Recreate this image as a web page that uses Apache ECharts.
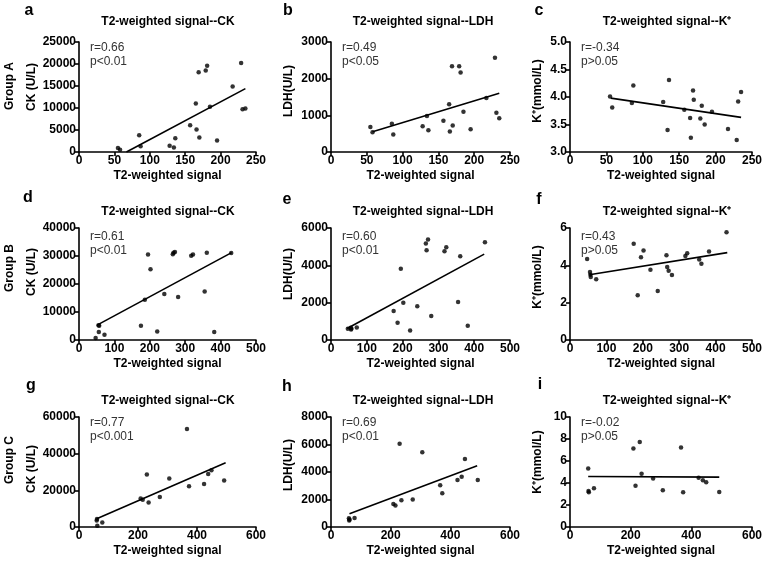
<!DOCTYPE html>
<html>
<head>
<meta charset="utf-8">
<script src="https://cdn.jsdelivr.net/npm/echarts@6/dist/echarts.min.js"></script>
<style>
html, body { margin: 0; padding: 0; background: #fff; }
#chart { width: 767px; height: 561px; }
</style>
</head>
<body>
<div id="chart"></div>
<script>
// group A (rows a-c)
var groupAX = [55, 58, 85, 87, 128, 134, 136, 157, 165, 166, 169, 170, 179, 181, 185, 195, 217, 229, 231, 235];
var ckA  = [900, 500, 3800, 1300, 1400, 1000, 3100, 6100, 11000, 5100, 18100, 3300, 18500, 19600, 10300, 2600, 14900, 20200, 9700, 9900];
var ldhA = [680, 540, 770, 480, 700, 980, 590, 850, 1300, 560, 2340, 725, 2340, 2165, 1100, 620, 1470, 2570, 1070, 920];
var kA   = [4.01, 3.81, 3.89, 4.21, 3.91, 3.40, 4.31, 3.77, 3.62, 3.26, 4.12, 3.95, 3.61, 3.84, 3.50, 3.73, 3.42, 3.22, 3.92, 4.09];
var fitCkA  = [[67, 0], [235, 14400]];
var fitLdhA = [[58, 550], [235, 1600]];
var fitKA   = [[56, 3.98], [235, 3.63]];

// group B (rows d-f)
var groupBX = [47, 55, 56, 57, 72, 175, 186, 195, 202, 221, 241, 265, 267, 271, 280, 317, 322, 355, 361, 382, 430];
var ckB  = [720, 5300, 2900, 5100, 1900, 5060, 14400, 30500, 25300, 3000, 16400, 30600, 31200, 31400, 15400, 30100, 30500, 17300, 31200, 2900, 31100];
var ldhB = [600, 650, 560, 620, 670, 1550, 920, 3820, 1990, 510, 1810, 5170, 4810, 5390, 1280, 4760, 4970, 2030, 4490, 760, 5230];
var kB   = [4.34, 3.64, 3.50, 3.37, 3.26, 5.15, 2.40, 4.43, 4.79, 3.77, 2.63, 4.54, 3.91, 3.71, 3.48, 4.50, 4.65, 4.31, 4.09, 4.74, 5.77];
var fitCkB  = [[51, 5300], [431, 31200]];
var fitLdhB = [[45, 620], [428, 4600]];
var fitKB   = [[53, 3.50], [432, 4.68]];

// group C (rows g-i)
var groupCX = [60, 61, 62, 79, 209, 216, 230, 236, 274, 306, 366, 373, 424, 438, 449, 492];
var ckC  = [3600, 4300, 700, 2400, 15500, 14900, 28700, 13400, 16400, 26500, 53500, 22200, 23400, 28900, 30900, 25400];
var ldhC = [640, 480, 550, 650, 1680, 1560, 6060, 1950, 2000, 5430, 3030, 2450, 3410, 3650, 4950, 3410];
var kC   = [5.32, 3.28, 3.16, 3.53, 7.14, 3.74, 7.72, 4.83, 4.41, 3.34, 7.23, 3.16, 4.47, 4.26, 4.07, 3.19];
var fitCkC  = [[60, 4500], [497, 35100]];
var fitLdhC = [[62, 960], [490, 4450]];
var fitKC   = [[60, 4.59], [492, 4.53]];

var titles = ['T2-weighted signal--CK', 'T2-weighted signal--LDH', 'T2-weighted signal--K\u207A'];
var yNames = ['CK (U/L)', 'LDH(U/L)', 'K\u207A(mmol/L)'];
var groupNames = ['Group A', 'Group B', 'Group C'];
var letters = ['a', 'b', 'c', 'd', 'e', 'f', 'g', 'h', 'i'];
var rTexts = ['r=0.66', 'r=0.49', 'r=-0.34', 'r=0.61', 'r=0.60', 'r=0.43', 'r=0.77', 'r=0.69', 'r=-0.02'];
var pTexts = ['p<0.01', 'p<0.05', 'p>0.05', 'p<0.01', 'p<0.01', 'p>0.05', 'p<0.001', 'p<0.01', 'p>0.05'];

// x ticks per row, y ticks per panel: [min, max, interval]
var xTicks = [[0, 250, 50], [0, 500, 100], [0, 600, 200]];
var yTicks = [
    [0, 25000, 5000], [0, 3000, 1000], [3, 5, 0.5],
    [0, 40000, 10000], [0, 6000, 2000], [0, 6, 2],
    [0, 60000, 20000], [0, 8000, 2000], [0, 10, 2]
];

var panelX = [groupAX, groupAX, groupAX, groupBX, groupBX, groupBX, groupCX, groupCX, groupCX];
var panelY = [ckA, ldhA, kA, ckB, ldhB, kB, ckC, ldhC, kC];
var panelFit = [fitCkA, fitLdhA, fitKA, fitCkB, fitLdhB, fitKB, fitCkC, fitLdhC, fitKC];

// layout (px)
var colLeft = [79, 331, 570];
var colWidth = [177, 179, 182];
var rowTop = [42, 228, 417];
var rowBottom = [152, 340, 527];
var titleY = [22, 212, 401];
var titleX = [168, 423, 667];
var letterPos = [[29, 11], [288, 11], [539, 11], [28, 198], [287, 200], [539, 200], [31, 386], [287, 387], [540, 385]];
var yNameX = [32, 289, 538];
var yNameY = [87, 91, 91, 272, 274, 277, 469, 465, 462];
var groupY = [86, 268, 460];
var annoX = [90, 342, 581];
var annoY = [48, 237, 423];

var font = '"Liberation Sans", Arial, sans-serif';

var grids = [], xAxes = [], yAxes = [], series = [], graphics = [];

function pairs(xs, ys) {
    return xs.map(function (v, i) { return [v, ys[i]]; });
}

function plain(v) { return String(v); }          // no thousands separator
function oneDec(v) { return v.toFixed(1); }

function txt(x, y, s, size, weight, color, rot, align) {
    return {
        type: 'text', x: x, y: y, rotation: rot || 0,
        style: {
            text: s, fontSize: size, fontWeight: weight, fontFamily: font,
            fill: color, align: align || 'center', verticalAlign: 'middle'
        }
    };
}

for (var i = 0; i < 9; i++) {
    var row = Math.floor(i / 3), col = i % 3;
    var xt = xTicks[row], yt = yTicks[i];

    grids.push({
        left: colLeft[col], top: rowTop[row],
        width: colWidth[col], height: rowBottom[row] - rowTop[row]
    });

    xAxes.push({
        gridIndex: i, type: 'value', min: xt[0], max: xt[1], interval: xt[2],
        name: 'T2-weighted signal', nameLocation: 'middle', nameGap: 18,
        nameTextStyle: { color: '#000', fontWeight: 'bold', fontSize: 12, fontFamily: font },
        axisLine: { show: true, onZero: false, lineStyle: { color: '#000', width: 1.6 } },
        axisTick: { show: true, length: 4, lineStyle: { color: '#000', width: 1.6 } },
        axisLabel: { color: '#000', fontWeight: 'bold', fontSize: 12, fontFamily: font, margin: 3, formatter: plain },
        splitLine: { show: false }
    });

    yAxes.push({
        gridIndex: i, type: 'value', min: yt[0], max: yt[1], interval: yt[2],
        axisLine: { show: true, onZero: false, lineStyle: { color: '#000', width: 1.6 } },
        axisTick: { show: true, length: 4, lineStyle: { color: '#000', width: 1.6 } },
        axisLabel: {
            color: '#000', fontWeight: 'bold', fontSize: 12, fontFamily: font, margin: 3,
            formatter: i === 2 ? oneDec : plain
        },
        splitLine: { show: false }
    });

    series.push({
        type: 'scatter', xAxisIndex: i, yAxisIndex: i,
        data: pairs(panelX[i], panelY[i]),
        symbol: 'circle', symbolSize: 4.5,
        itemStyle: { color: '#000' },
        silent: true
    });
    series.push({
        type: 'line', xAxisIndex: i, yAxisIndex: i,
        data: panelFit[i], showSymbol: false, symbol: 'none',
        lineStyle: { color: '#000', width: 1.6 },
        silent: true
    });

    graphics.push(txt(titleX[col], titleY[row], titles[col], 12, 'bold', '#000'));
    graphics.push(txt(letterPos[i][0], letterPos[i][1], letters[i], 16, 'bold', '#000'));
    graphics.push(txt(yNameX[col], yNameY[i], yNames[col], 12, 'bold', '#000', Math.PI / 2));
    graphics.push(txt(annoX[col], annoY[row], rTexts[i], 12, 'normal', '#333', 0, 'left'));
    graphics.push(txt(annoX[col], annoY[row] + 14, pTexts[i], 12, 'normal', '#333', 0, 'left'));
}

for (var g = 0; g < 3; g++) {
    graphics.push(txt(10, groupY[g], groupNames[g], 12, 'bold', '#000', Math.PI / 2));
}

var chart = echarts.init(document.getElementById('chart'), null, { renderer: 'canvas' });
chart.setOption({
    animation: false,
    backgroundColor: '#fff',
    grid: grids,
    xAxis: xAxes,
    yAxis: yAxes,
    series: series,
    graphic: graphics
});

window.addEventListener('resize', function () { chart.resize(); });
</script>
</body>
</html>
